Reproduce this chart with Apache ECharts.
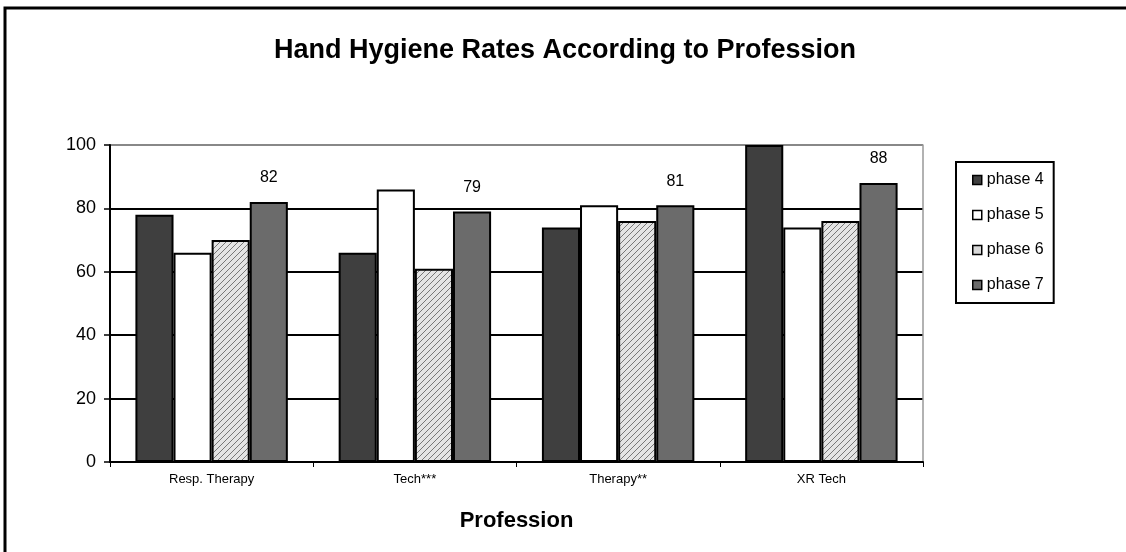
<!DOCTYPE html>
<html><head><meta charset="utf-8">
<script src="https://cdn.jsdelivr.net/npm/echarts@6/dist/echarts.min.js"></script>
<style>html,body{margin:0;padding:0;background:#fff}#c{width:1126px;height:552px}</style>
</head><body><div id="c"></div>
<script>
const categories = ['Resp. Therapy', 'Tech***', 'Therapy**', 'XR Tech'];
const phase4 = [78, 66, 74, 100];
const phase5 = [66, 86, 81, 74];
const phase6 = [70, 61, 76, 76];
const phase7 = [82, 79, 81, 88];
const seriesNames = ['phase 4', 'phase 5', 'phase 6', 'phase 7'];
const yTicks = [0, 20, 40, 60, 80, 100];

// hatch pattern
const pc = document.createElement('canvas');
pc.width = 6; pc.height = 6;
const g = pc.getContext('2d');
g.fillStyle = '#e4e4e4'; g.fillRect(0, 0, 6, 6);
g.strokeStyle = '#777'; g.lineWidth = 1;
g.beginPath();
g.moveTo(0, 6); g.lineTo(6, 0);
g.moveTo(-3, 3); g.lineTo(3, -3);
g.moveTo(3, 9); g.lineTo(9, 3);
g.stroke();
const hatch = { image: pc, repeat: 'repeat' };

const fills = ['#3f3f3f', '#ffffff', hatch, '#6b6b6b'];
const legendFills = ['#3f3f3f', '#ffffff', '#d8d8d8', '#6b6b6b'];
const data = [phase4, phase5, phase6, phase7];

const chart = echarts.init(document.getElementById('c'));
const font = 'Liberation Sans, Arial, sans-serif';
chart.setOption({
  animation: false,
  backgroundColor: '#fff',
  title: {
    text: 'Hand Hygiene Rates According to Profession',
    left: 560, textAlign: 'center', top: 32,
    textStyle: { fontFamily: font, fontSize: 27, fontWeight: 'bold', color: '#000' }
  },
  graphic: [{
    type: 'rect', shape: { x: 5, y: 8, width: 1140, height: 570 },
    style: { fill: 'none', stroke: '#000', lineWidth: 3 }, silent: true
  }],
  legend: {
    orient: 'vertical', left: 956, top: 162,
    padding: [10, 10, 10, 16], itemGap: 19,
    itemWidth: 9, itemHeight: 9, icon: 'rect',
    borderColor: '#000', borderWidth: 2,
    textStyle: { fontFamily: font, fontSize: 16, color: '#000' },
    data: seriesNames.map((n, i) => ({ name: n, itemStyle: { color: legendFills[i], borderColor: '#000', borderWidth: 1.5 } }))
  },
  grid: { left: 110, right: 203, top: 145, bottom: 90 },
  xAxis: {
    type: 'category', data: categories,
    name: 'Profession', nameLocation: 'middle', nameGap: 48,
    nameTextStyle: { fontFamily: font, fontSize: 22, fontWeight: 'bold', color: '#000' },
    axisLine: { lineStyle: { color: '#000', width: 2 } },
    axisTick: { show: true, length: 5, lineStyle: { color: '#000' } },
    axisLabel: { fontFamily: font, fontSize: 13, color: '#000', margin: 11 }
  },
  yAxis: [{
    type: 'value', min: 0, max: 100, interval: 20,
    axisLine: { show: true, lineStyle: { color: '#000', width: 2 } },
    axisTick: { show: true, length: 6, lineStyle: { color: '#000', width: 1.5 } },
    axisLabel: { fontFamily: font, fontSize: 18, color: '#000', margin: 14,
      formatter: v => yTicks.includes(v) ? String(v) : '' },
    splitLine: { show: true, lineStyle: { color: ['#000', '#000', '#000', '#000', '#000', '#888'], width: 2 } }
  }, {
    type: 'value', min: 0, max: 100, interval: 20, position: 'right',
    axisLine: { show: true, lineStyle: { color: '#999', width: 1.5 } },
    axisTick: { show: false }, axisLabel: { show: false }, splitLine: { show: false }
  }],
  series: data.map((d, i) => ({
    type: 'bar', name: seriesNames[i], data: d,
    barGap: '0%', barCategoryGap: '25%',
    itemStyle: { color: fills[i], borderColor: '#000', borderWidth: 2 },
    label: i === 3 ? { show: true, position: 'top', distance: 16,
      fontFamily: font, fontSize: 16, color: '#000' } : { show: false }
  }))
});
</script></body></html>
